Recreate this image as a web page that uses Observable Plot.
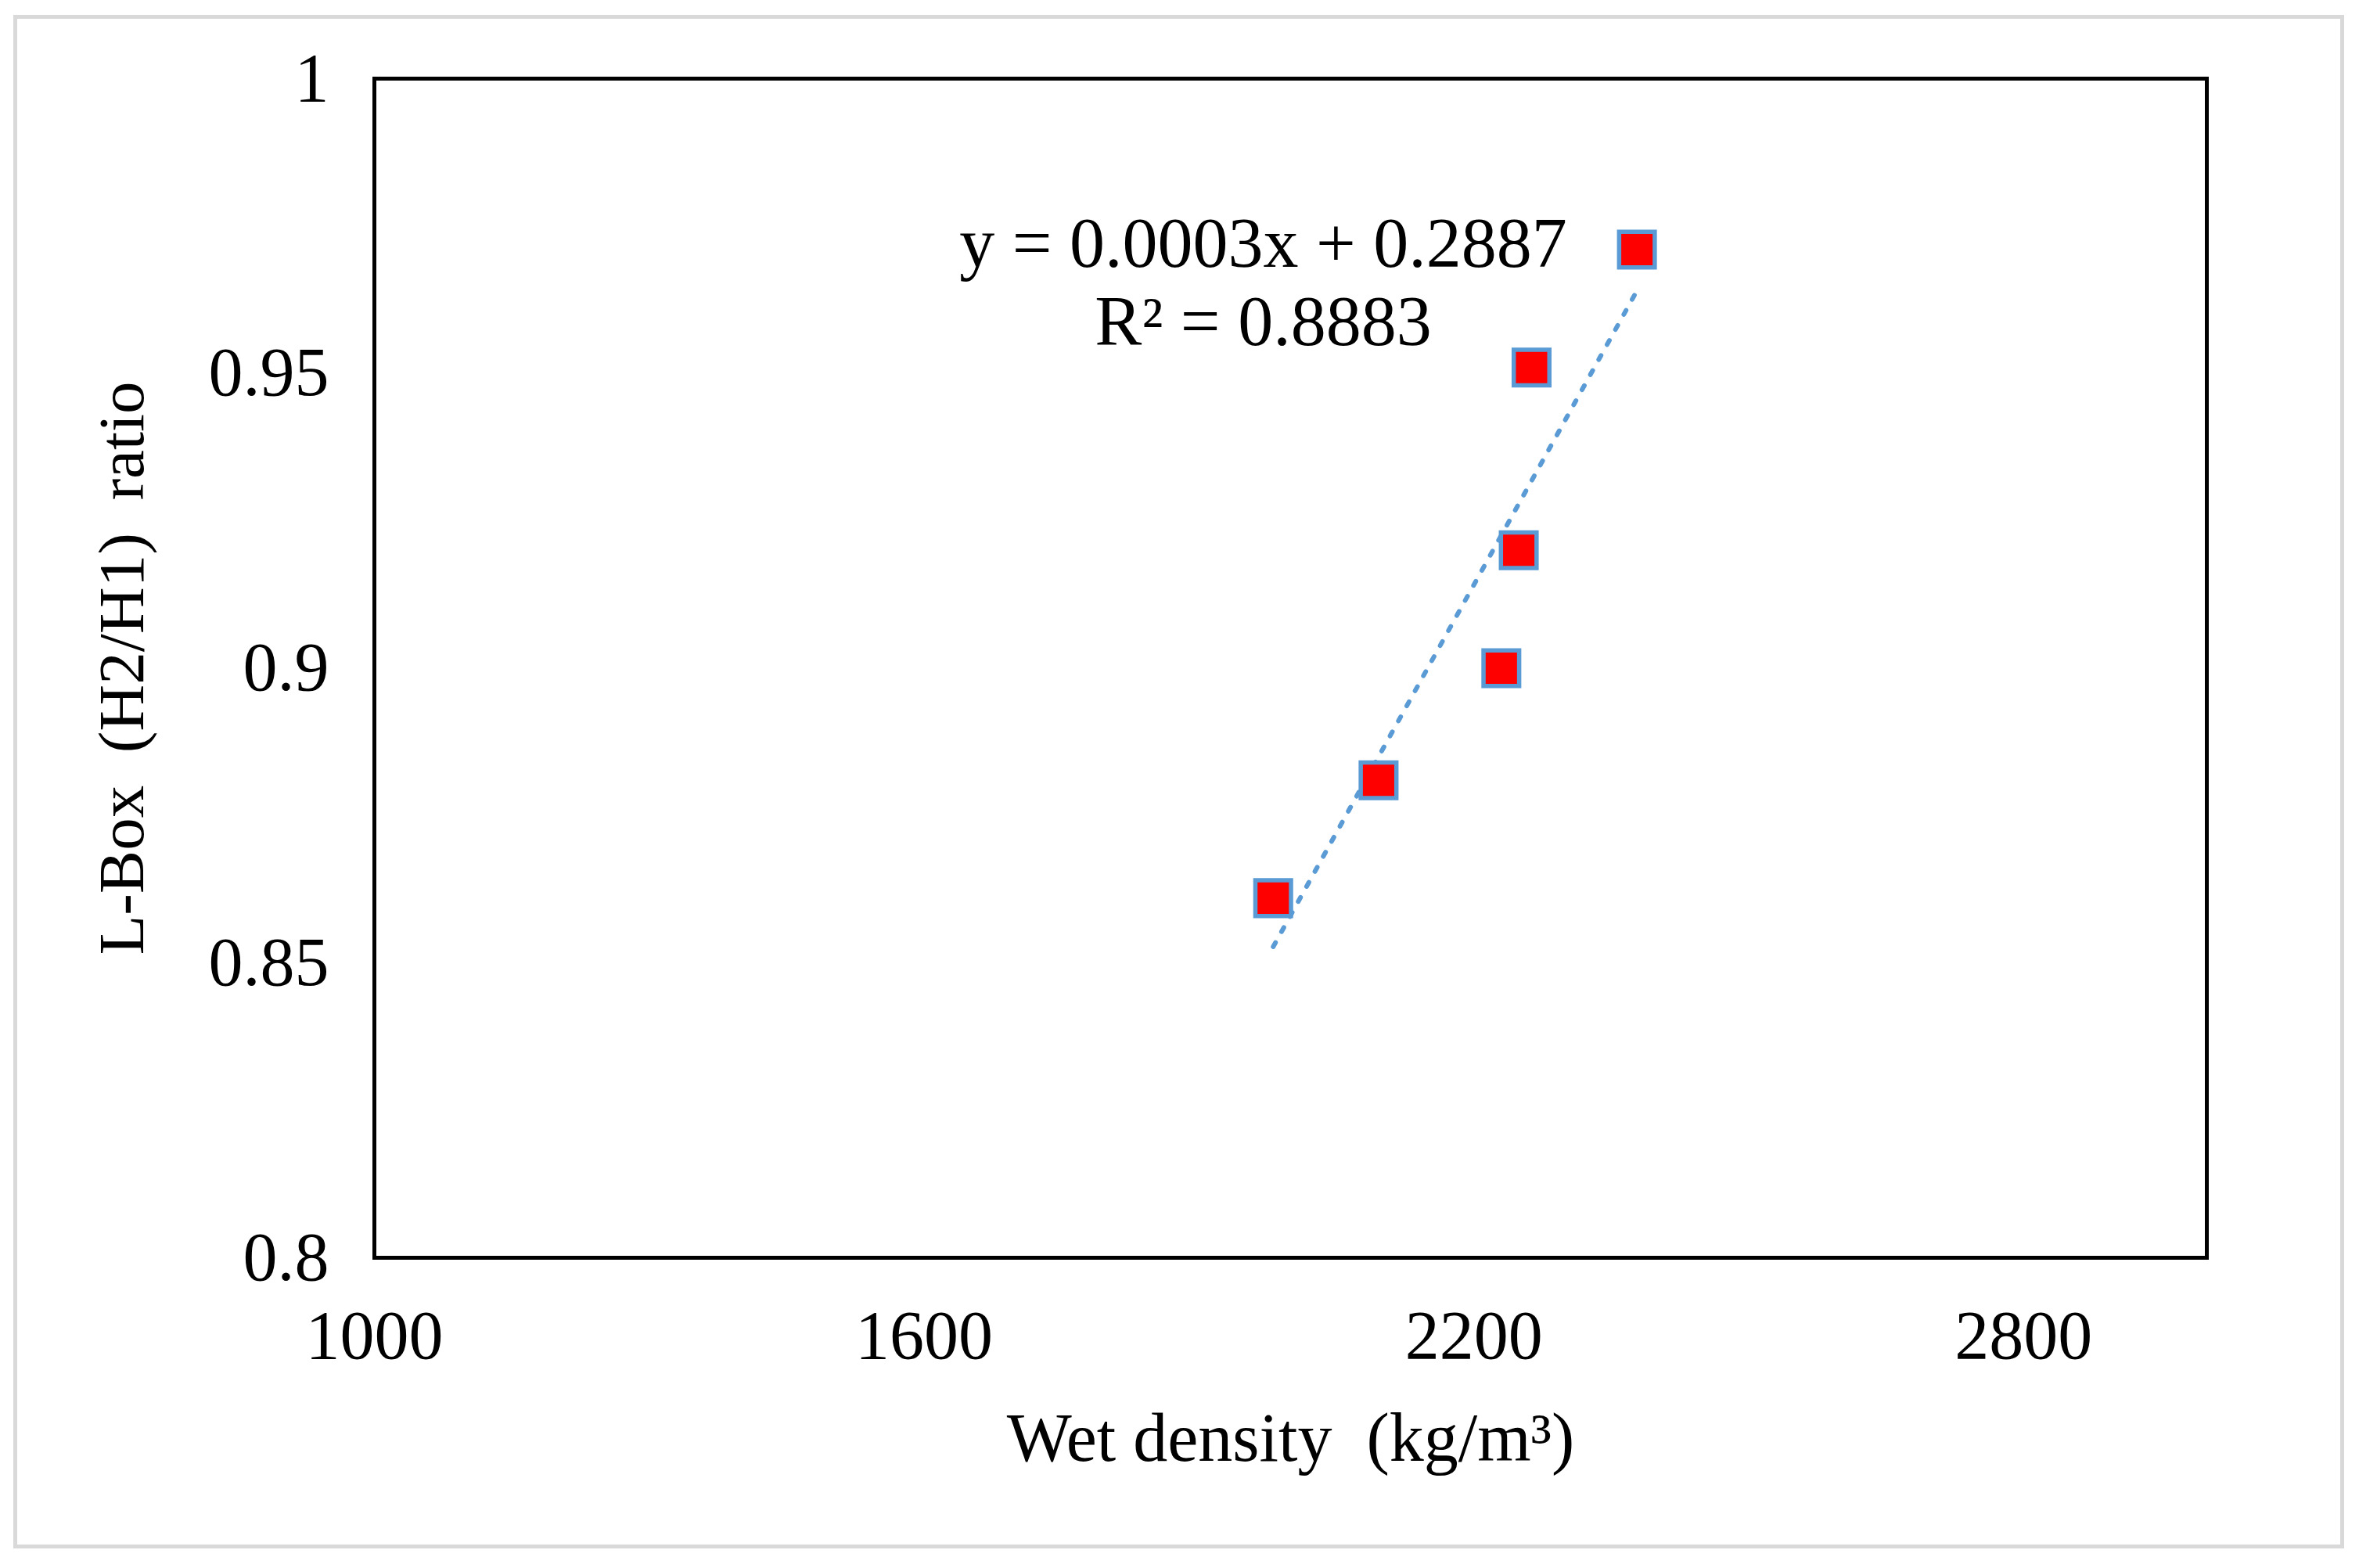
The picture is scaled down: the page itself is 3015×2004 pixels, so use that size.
<!DOCTYPE html>
<html><head><meta charset="utf-8">
<script src="https://cdn.jsdelivr.net/npm/d3@7"></script>
<script src="https://cdn.jsdelivr.net/npm/@observablehq/plot@0.6"></script>
<style>
html,body{margin:0;padding:0;background:#fff;}
#wrap{position:relative;width:3015px;height:2004px;overflow:hidden;}
#border{position:absolute;left:17px;top:19px;width:2969px;height:1950px;border:5px solid #d9d9d9;box-sizing:content-box;pointer-events:none;}
</style></head><body>
<div id="wrap"><div id="chart"></div><div id="border"></div></div>
<script>
const density = [1981, 2096, 2230, 2249, 2263, 2378];
const lboxRatio = [0.861, 0.881, 0.900, 0.920, 0.951, 0.971];
const xTicks = [1000, 1600, 2200, 2800];
const yTicks = [0.8, 0.85, 0.9, 0.95, 1];
const yTickLabels = ["0.8", "0.85", "0.9", "0.95", "1"];
const xTitle = "Wet density  (kg/m³)";
const yTitle = "L-Box  (H2/H1)  ratio";
const equationLines = ["y = 0.0003x + 0.2887", "R² = 0.8883"];

const data = density.map((d, i) => ({density: d, ratio: lboxRatio[i]}));
const font = "'Liberation Serif', 'Times New Roman', serif";

const chart = Plot.plot({
  width: 3015, height: 2004,
  marginLeft: 478, marginRight: 195, marginTop: 100, marginBottom: 397,
  style: {fontFamily: font, fontSize: "88px", color: "#000", background: "transparent"},
  x: {domain: [1000, 3000], ticks: xTicks, tickSize: 0, tickPadding: 66, label: null, tickFormat: d => String(d)},
  y: {domain: [0.8, 1], ticks: yTicks, tickFormat: d => yTickLabels[yTicks.findIndex(t => Math.abs(t - d) < 1e-9)], tickSize: 0, tickPadding: 58, label: null},
  marks: [
    Plot.frame({stroke: "#000", strokeWidth: 5}),
    Plot.linearRegressionY(data, {x: "density", y: "ratio", stroke: "#5b9bd5", strokeWidth: 6, strokeDasharray: "6,16", ci: 0}),
    Plot.dot(data, {x: "density", y: "ratio", symbol: "square", r: 25.7, fill: "#ff0000", stroke: "#5b9bd5", strokeWidth: 5.5}),
    Plot.text([equationLines.join("\n")], {frameAnchor: "top", dx: -35, dy: 170, lineAnchor: "top", lineHeight: 1.11, fontSize: 90, fill: "#000"}),
    Plot.text([xTitle], {frameAnchor: "bottom", dy: 259, fontSize: 88, fill: "#000"}),
    Plot.text([yTitle], {frameAnchor: "left", textAnchor: "middle", dx: -322, rotate: -90, fontSize: 83, fill: "#000"})
  ]
});
document.getElementById("chart").appendChild(chart);
</script>
</body></html>
